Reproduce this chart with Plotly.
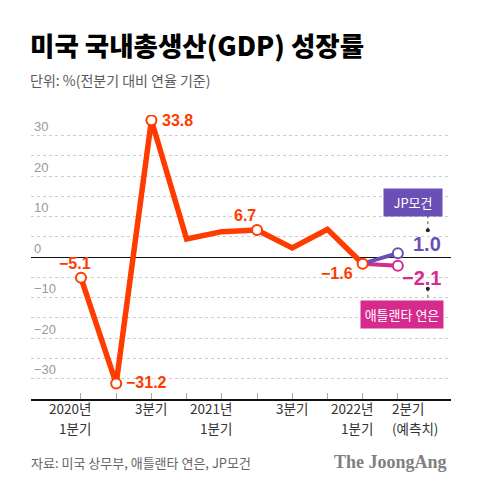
import plotly.graph_objects as go

# ---- data ----
quarters = ["2020Q1", "2020Q2", "2020Q3", "2020Q4", "2021Q1", "2021Q2",
            "2021Q3", "2021Q4", "2022Q1", "2022Q2"]
gdp_growth = [-5.1, -31.2, 33.8, 4.5, 6.3, 6.7, 2.3, 6.9, -1.6]
labeled_idx = [0, 1, 2, 5, 8]
jp_forecast = 1.0
atl_forecast = -2.1
tick_labels = [["2020년", "1분기"], [], ["3분기"], [], ["2021년", "1분기"], [],
               ["3분기"], [], ["2022년", "1분기"], ["2분기", "(예측치)"]]
y_ticks = [-30, -20, -10, 0, 10, 20, 30]

RED = "#FF3B00"
PURPLE = "#6A4FB6"
MAGENTA = "#D62A8C"
KFONT = "Noto Sans CJK KR"

x = list(range(len(gdp_growth)))
fc_x = [len(gdp_growth) - 1, len(gdp_growth)]

fig = go.Figure()
# forecast lines
fig.add_trace(go.Scatter(x=fc_x, y=[gdp_growth[-1], atl_forecast], mode="lines",
                         line=dict(color=MAGENTA, width=4), hoverinfo="skip"))
fig.add_trace(go.Scatter(x=fc_x, y=[gdp_growth[-1], jp_forecast], mode="lines",
                         line=dict(color=PURPLE, width=4), hoverinfo="skip"))
# main line
fig.add_trace(go.Scatter(x=x, y=gdp_growth, mode="lines",
                         line=dict(color=RED, width=5.5), hoverinfo="skip"))
# markers
fig.add_trace(go.Scatter(x=labeled_idx, y=[gdp_growth[i] for i in labeled_idx],
                         mode="markers",
                         marker=dict(size=10, color="white", line=dict(color=RED, width=2)),
                         hoverinfo="skip"))
fig.add_trace(go.Scatter(x=[fc_x[1]], y=[atl_forecast], mode="markers",
                         marker=dict(size=10, color="white", line=dict(color=MAGENTA, width=2)),
                         hoverinfo="skip"))
fig.add_trace(go.Scatter(x=[fc_x[1]], y=[jp_forecast], mode="markers",
                         marker=dict(size=10, color="white", line=dict(color=PURPLE, width=2)),
                         hoverinfo="skip"))

def fmt(v):
    return ("−" if v < 0 else "") + f"{abs(v):.1f}"

ann = []
# value labels (offsets in pixels)
offsets = {0: dict(xanchor="center", xshift=-6, yshift=14),
           1: dict(xanchor="left", xshift=8, yshift=1),
           2: dict(xanchor="left", xshift=9, yshift=0),
           5: dict(xanchor="right", xshift=1, yshift=15),
           8: dict(xanchor="right", xshift=-8, yshift=-10)}
for i in labeled_idx:
    o = offsets[i]
    ann.append(dict(x=i, y=gdp_growth[i], xref="x", yref="y", text=fmt(gdp_growth[i]),
                    showarrow=False, xanchor=o["xanchor"], yanchor="middle",
                    xshift=o["xshift"], yshift=o["yshift"],
                    font=dict(family="Liberation Sans", size=16, color=RED, weight="bold")))
ann.append(dict(x=fc_x[1], y=jp_forecast, text=fmt(jp_forecast), showarrow=False,
                xanchor="right", yanchor="middle", xshift=45, yshift=9,
                font=dict(family="Liberation Sans", size=20, color=PURPLE, weight="bold")))
ann.append(dict(x=fc_x[1], y=atl_forecast, text=fmt(atl_forecast), showarrow=False,
                xanchor="right", yanchor="middle", xshift=45, yshift=-12,
                font=dict(family="Liberation Sans", size=20, color=MAGENTA, weight="bold")))
# boxes
ann.append(dict(x=fc_x[1], y=jp_forecast, text="JP모건", showarrow=False,
                xanchor="center", yanchor="middle", xshift=15, yshift=51,
                bgcolor=PURPLE, borderpad=4, width=50,
                font=dict(family=KFONT, size=13, color="white")))
ann.append(dict(x=fc_x[1], y=atl_forecast, text="애틀랜타 연은", showarrow=False,
                xanchor="center", yanchor="middle", xshift=4, yshift=-49,
                bgcolor=MAGENTA, borderpad=4, width=74,
                font=dict(family=KFONT, size=13, color="white")))
# x tick labels, one annotation per line
line_shifts = [-9, -28.5]
for i, lines in enumerate(tick_labels):
    if not lines:
        continue
    if len(lines) == 2 and "년" in lines[0]:
        xa, xs = "right", 12
    elif len(lines) == 2:
        xa, xs = "left", -8
    else:
        xa, xs = "center", 0
    for k, t in enumerate(lines):
        ann.append(dict(x=i, y=0, xref="x", yref="paper", text=t, showarrow=False,
                        xanchor=xa, yanchor="middle", xshift=xs, yshift=line_shifts[k],
                        font=dict(family=KFONT, size=13.5, color="#333333")))
# title, subtitle, source, logo
ann.append(dict(x=0, y=1, xref="paper", yref="paper", text="미국 국내총생산(GDP) 성장률",
                showarrow=False, xanchor="left", yanchor="middle", xshift=-3, yshift=71,
                font=dict(family=KFONT, size=26.5, color="#000000", weight=900)))
ann.append(dict(x=0, y=1, xref="paper", yref="paper", text="단위: %(전분기 대비 연율 기준)",
                showarrow=False, xanchor="left", yanchor="middle", xshift=-3, yshift=35,
                font=dict(family=KFONT, size=14, color="#5a5a5a")))
ann.append(dict(x=0, y=0, xref="paper", yref="paper", text="자료: 미국 상무부, 애틀랜타 연은, JP모건",
                showarrow=False, xanchor="left", yanchor="middle", xshift=-2, yshift=-63,
                font=dict(family=KFONT, size=13, color="#666666")))
ann.append(dict(x=1, y=0, xref="paper", yref="paper", text="<b>The JoongAng</b>",
                showarrow=False, xanchor="right", yanchor="middle", xshift=-2, yshift=-63,
                font=dict(family="Liberation Serif", size=18, color="#808080")))

# connector dotted lines and dots (pixel offsets anchored at forecast points)
shapes = [
    dict(type="line", xref="x", yref="y", xsizemode="pixel", ysizemode="pixel",
         xanchor=fc_x[1], yanchor=jp_forecast, x0=30, x1=30, y0=23, y1=39,
         line=dict(color="#555555", width=1, dash="dot")),
    dict(type="circle", xref="x", yref="y", xsizemode="pixel", ysizemode="pixel",
         xanchor=fc_x[1], yanchor=jp_forecast, x0=28, x1=32, y0=21, y1=25,
         fillcolor="#222222", line=dict(width=0)),
    dict(type="line", xref="x", yref="y", xsizemode="pixel", ysizemode="pixel",
         xanchor=fc_x[1], yanchor=atl_forecast, x0=30, x1=30, y0=-23, y1=-37,
         line=dict(color="#555555", width=1, dash="dot")),
    dict(type="circle", xref="x", yref="y", xsizemode="pixel", ysizemode="pixel",
         xanchor=fc_x[1], yanchor=atl_forecast, x0=28, x1=32, y0=-21, y1=-25,
         fillcolor="#222222", line=dict(width=0)),
]

fig.update_layout(
    width=480, height=489,
    margin=dict(l=31, r=29, t=115, b=90),
    paper_bgcolor="white", plot_bgcolor="white",
    showlegend=False,
    annotations=ann, shapes=shapes,
    xaxis=dict(range=[-1.42, 10.51], tickvals=list(range(len(quarters))),
               showticklabels=False, ticks="inside", ticklen=6, tickcolor="#aaaaaa",
               showgrid=False, zeroline=False, showline=True, linecolor="#111111",
               linewidth=1.5, fixedrange=True),
    yaxis=dict(range=[-35, 35.1], tickvals=y_ticks, ticklabelposition="inside top",
               tickfont=dict(family="Liberation Sans", size=13, color="#999999"),
               showgrid=True, gridcolor="#cccccc", griddash="dot", gridwidth=1,
               minor=dict(dtick=5, tick0=0, showgrid=True, gridcolor="#cccccc",
                          griddash="dot", gridwidth=1),
               zeroline=True, zerolinecolor="#111111", zerolinewidth=1.2,
               showline=False, ticks="", fixedrange=True),
)

fig.write_html("out.html", config={"displayModeBar": False},
               post_script="document.body.style.margin='0';document.body.style.padding='0';")
